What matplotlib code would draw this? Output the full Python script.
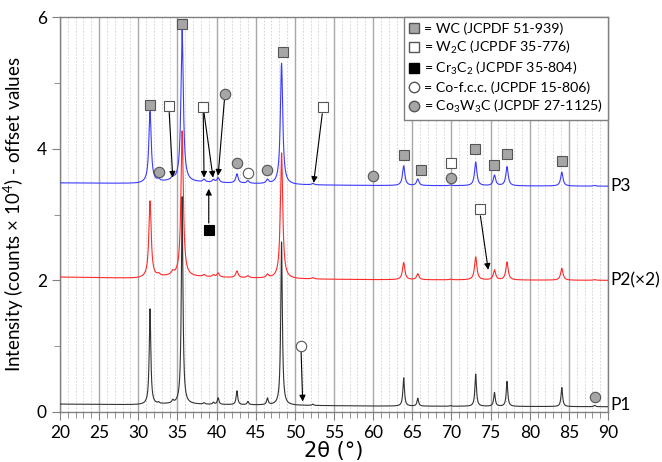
import numpy as np
import matplotlib
matplotlib.use("Agg")
import matplotlib.pyplot as plt
from matplotlib.lines import Line2D
from matplotlib.ticker import MultipleLocator

plt.rcParams['font.family'] = ['Lato', 'DejaVu Sans']
plt.rcParams['mathtext.fontset'] = 'custom'
plt.rcParams['mathtext.rm'] = 'Lato'
plt.rcParams['mathtext.it'] = 'Lato:italic'

# ---------------- data ----------------
# peak positions (2theta, deg)
peak_pos = [31.5, 32.6, 34.4, 35.6, 38.4, 39.6, 40.2, 42.6, 44.0, 46.5, 48.3,
            52.3, 63.9, 65.7, 69.9, 73.1, 75.5, 77.1, 84.1, 88.3]
# peak heights above baseline for each pattern (counts x 1e4)
p1_heights = [1.45, 0.02, 0.04, 3.15, 0.02, 0.03, 0.10, 0.21, 0.05, 0.10, 2.48,
              0.02, 0.43, 0.12, 0.01, 0.49, 0.21, 0.38, 0.29, 0.02]
p2_heights = [1.16, 0.03, 0.05, 2.21, 0.03, 0.03, 0.06, 0.10, 0.03, 0.05, 1.91,
              0.02, 0.26, 0.09, 0.01, 0.35, 0.15, 0.27, 0.18, 0.01]
p3_heights = [1.08, 0.03, 0.05, 2.30, 0.04, 0.04, 0.07, 0.14, 0.04, 0.06, 1.84,
              0.02, 0.30, 0.10, 0.01, 0.36, 0.16, 0.29, 0.21, 0.01]
# peak full widths (deg) per pattern
p1_width = 0.24
p2_width = 0.36
p3_width = 0.36
# baselines (offset values) at control angles
base_x = [20, 30, 34, 50, 60, 90]
p1_base = [0.12, 0.11, 0.12, 0.10, 0.09, 0.08]
p2_base = [2.05, 2.03, 2.06, 2.02, 2.01, 2.00]
p3_base = [3.48, 3.47, 3.50, 3.45, 3.44, 3.43]

series_labels = ["P1", "P2(\u00d72)", "P3"]
label_y = [0.1, 2.0, 3.43]

# phase markers: x, y of marker
wc_x = [31.5, 35.6, 48.5, 63.9, 66.1, 73.0, 75.4, 77.1, 84.1]
wc_y = [4.66, 5.89, 5.47, 3.90, 3.68, 4.00, 3.75, 3.92, 3.81]
w2c_x = [33.9, 38.3, 53.6, 69.9, 73.6]
w2c_y = [4.65, 4.64, 4.63, 3.78, 3.08]
cr3c2_x = [39.0]
cr3c2_y = [2.77]
co_x = [44.0, 50.8]
co_y = [3.63, 1.00]
co3w3c_x = [32.65, 41.1, 42.6, 46.4, 60.0, 69.9, 88.3]
co3w3c_y = [3.65, 4.83, 3.78, 3.68, 3.59, 3.56, 0.23]

# arrows: start (near marker) -> end (peak)
arrow_start_x = [33.95, 38.3, 38.4, 41.0, 39.0, 53.5, 73.7, 50.8]
arrow_start_y = [4.55, 4.54, 4.54, 4.74, 2.87, 4.53, 2.98, 0.91]
arrow_end_x = [34.4, 38.4, 39.55, 40.2, 39.0, 52.4, 74.7, 51.0]
arrow_end_y = [3.56, 3.56, 3.56, 3.59, 3.39, 3.48, 2.16, 0.16]

legend_labels = ["= WC (JCPDF 51-939)", "= W$_2$C (JCPDF 35-776)",
                 "= Cr$_3$C$_2$ (JCPDF 35-804)", "= Co-f.c.c. (JCPDF 15-806)",
                 "= Co$_3$W$_3$C (JCPDF 27-1125)"]

# ---------------- figure ----------------
fig = plt.figure(figsize=(6.62, 4.62), dpi=100)
ax = fig.add_axes([60/662, 50/462, 548/662, 395/462])

x = np.linspace(20, 90, 7001)

def profile(heights, width, base):
    y = np.interp(x, base_x, base)
    g = width / 2.0
    for p, h in zip(peak_pos, heights):
        y = y + h * g**2 / ((x - p)**2 + g**2)
    return y

ax.plot(x, profile(p3_heights, p3_width, p3_base), color='#3b3bff', lw=0.8, zorder=3)
ax.plot(x, profile(p2_heights, p2_width, p2_base), color='#ff2a2a', lw=0.8, zorder=4)
ax.plot(x, profile(p1_heights, p1_width, p1_base), color='#333333', lw=0.8, zorder=5)

gray = '#a6a6a6'
edge = '#555555'
ms = 7.5
ax.plot(wc_x, wc_y, 's', ms=ms, mfc=gray, mec=edge, mew=0.8, ls='none', zorder=7)
ax.plot(w2c_x, w2c_y, 's', ms=ms, mfc='white', mec=edge, mew=0.8, ls='none', zorder=7)
ax.plot(cr3c2_x, cr3c2_y, 's', ms=ms, mfc='black', mec='black', mew=0.8, ls='none', zorder=7)
ax.plot(co_x, co_y, 'o', ms=ms, mfc='white', mec=edge, mew=0.8, ls='none', zorder=7)
ax.plot(co3w3c_x, co3w3c_y, 'o', ms=ms, mfc=gray, mec=edge, mew=0.8, ls='none', zorder=7)

for sx, sy, ex, ey in zip(arrow_start_x, arrow_start_y, arrow_end_x, arrow_end_y):
    ax.annotate('', xy=(ex, ey), xytext=(sx, sy),
                arrowprops=dict(arrowstyle='-|>', color='black', lw=0.8,
                                mutation_scale=9, shrinkA=0, shrinkB=0), zorder=6)

ax.set_xlim(20, 90)
ax.set_ylim(0, 6)
ax.xaxis.set_major_locator(MultipleLocator(5))
ax.xaxis.set_minor_locator(MultipleLocator(1))
ax.yaxis.set_major_locator(MultipleLocator(2))
ax.yaxis.set_minor_locator(MultipleLocator(1))
ax.grid(which='major', axis='x', color='#a8a8a8', lw=1.0)
ax.grid(which='minor', axis='x', color='#cfcfcf', lw=0.6, ls=(0, (2, 2)))
ax.set_axisbelow(True)
for s in ax.spines.values():
    s.set_color('#808080')
    s.set_linewidth(1.0)
ax.tick_params(which='major', direction='out', length=6, color='#808080', labelsize=12.5)
ax.tick_params(which='minor', direction='out', length=4, color='#808080')

ax.set_ylabel("Intensity (counts \u00d7 10$^4$) - offset values", fontsize=13.5, labelpad=8)
ax.set_xlabel("2\u03b8 (\u00b0)", fontsize=15, labelpad=0,
              family=['DejaVu Sans'])

for lab, ly in zip(series_labels, label_y):
    ax.text(90.25, ly, lab, fontsize=12.5, va='center', ha='left', clip_on=False)

handles = [
    Line2D([], [], marker='s', ls='none', ms=ms, mfc=gray, mec=edge),
    Line2D([], [], marker='s', ls='none', ms=ms, mfc='white', mec=edge),
    Line2D([], [], marker='s', ls='none', ms=ms, mfc='black', mec='black'),
    Line2D([], [], marker='o', ls='none', ms=ms, mfc='white', mec=edge),
    Line2D([], [], marker='o', ls='none', ms=ms, mfc=gray, mec=edge),
]
leg = ax.legend(handles, legend_labels, loc='upper right', borderaxespad=0,
                fontsize=10.2, handlelength=0.8, handletextpad=0.3,
                labelspacing=0.3, borderpad=0.35, fancybox=False, framealpha=1)
leg.get_frame().set_edgecolor('#808080')
leg.get_frame().set_linewidth(1.0)
leg.set_zorder(10)

fig.savefig('out.png', dpi=100)
